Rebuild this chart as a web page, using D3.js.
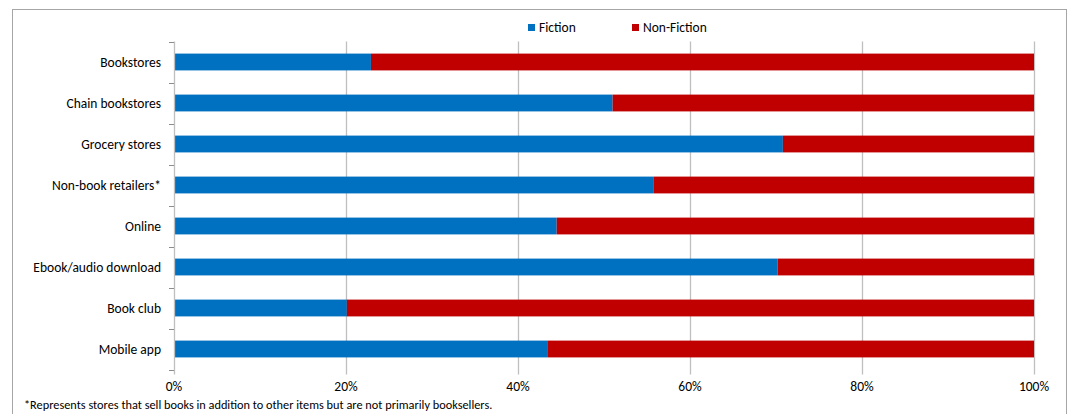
<!DOCTYPE html>
<html>
<head>
<meta charset="utf-8">
<script src="https://cdn.jsdelivr.net/npm/d3@7"></script>
<style>
  html, body { margin: 0; padding: 0; background: #fff; }
  svg { display: block; font-family: Carlito, Lato, "Open Sans", sans-serif; }
</style>
</head>
<body>
<svg id="chart" width="1070" height="414"></svg>
<script>
// Share of books bought, by where they were bought
const categories = ["Bookstores", "Chain bookstores", "Grocery stores", "Non-book retailers*",
                    "Online", "Ebook/audio download", "Book club", "Mobile app"];
const fiction    = [22.9, 51.0, 70.8, 55.8, 44.5, 70.2, 20.1, 43.4];
const nonFiction = [77.1, 49.0, 29.2, 44.2, 55.5, 29.8, 79.9, 56.6];
const seriesNames = ["Fiction", "Non-Fiction"];
const seriesColors = ["#0070c0", "#c00000"];
const xTicks = [0, 20, 40, 60, 80, 100];
const footnote = "*Represents stores that sell books in addition to other items but are not primarily booksellers.";

const svg = d3.select("#chart");
const plot = { left: 174, right: 1034, top: 41.5, bottom: 369.5 };
const labelSize = 13.5;

// outer frame
svg.append("rect")
  .attr("x", 12.5).attr("y", 9.5).attr("width", 1054).attr("height", 410)
  .attr("fill", "#fff").attr("stroke", "#a6a6a6").attr("stroke-width", 1);

const x = d3.scaleLinear().domain([0, 100]).range([plot.left, plot.right]);
const y = d3.scaleBand().domain(categories).range([plot.top, plot.bottom]).paddingInner(0.59).paddingOuter(0.295);

// vertical gridlines (extend below the plot as tick marks)
svg.append("g").selectAll("line").data(xTicks.filter(t => t > 0)).join("line")
  .attr("x1", d => Math.round(x(d)) + 0.5).attr("x2", d => Math.round(x(d)) + 0.5)
  .attr("y1", plot.top).attr("y2", plot.bottom + 5)
  .attr("stroke", "#bfbfbf").attr("stroke-width", 1.3);

// stacked bars
const stackData = categories.map((c, i) => ({ cat: c, Fiction: fiction[i], "Non-Fiction": nonFiction[i] }));
const stacked = d3.stack().keys(seriesNames)(stackData);
svg.append("g").selectAll("g").data(stacked).join("g")
  .attr("fill", (d, i) => seriesColors[i])
  .selectAll("rect").data(d => d).join("rect")
    .attr("x", d => x(d[0]))
    .attr("width", d => x(d[1]) - x(d[0]))
    .attr("y", d => y(d.data.cat))
    .attr("height", y.bandwidth());

// y axis: line with ticks at band boundaries
const yAxisG = svg.append("g");
yAxisG.append("line")
  .attr("x1", plot.left + 0.5).attr("x2", plot.left + 0.5)
  .attr("y1", plot.top).attr("y2", plot.bottom + 5)
  .attr("stroke", "#bfbfbf").attr("stroke-width", 1.3);
const boundaries = d3.range(categories.length + 1).map(i => plot.top + i * (plot.bottom - plot.top) / categories.length);
yAxisG.selectAll("line.tick").data(boundaries).join("line").attr("class", "tick")
  .attr("x1", plot.left - 5).attr("x2", plot.left)
  .attr("y1", d => Math.round(d) + 0.5).attr("y2", d => Math.round(d) + 0.5)
  .attr("stroke", "#8c8c8c").attr("stroke-width", 1);
yAxisG.selectAll("text").data(categories).join("text")
  .attr("x", 161).attr("y", d => y(d) + y.bandwidth() / 2)
  .attr("dy", "0.35em").attr("text-anchor", "end")
  .attr("font-size", labelSize).attr("fill", "#000")
  .text(d => d);

// x tick labels
svg.append("g").selectAll("text").data(xTicks).join("text")
  .attr("x", d => x(d)).attr("y", 391)
  .attr("text-anchor", "middle").attr("font-size", labelSize).attr("fill", "#000")
  .text(d => d + "%");

// legend
const legendPos = [528, 632];
const lg = svg.append("g").selectAll("g").data(seriesNames).join("g")
  .attr("transform", (d, i) => `translate(${legendPos[i]},24)`);
lg.append("rect").attr("width", 7).attr("height", 7).attr("fill", (d, i) => seriesColors[i]);
lg.append("text").attr("x", 11).attr("y", 3.5).attr("dy", "0.35em")
  .attr("font-size", labelSize).attr("fill", "#000").text(d => d);

// footnote
svg.append("text").attr("x", 24).attr("y", 409)
  .attr("font-size", 12.3).attr("fill", "#000").text(footnote);
</script>
</body>
</html>
